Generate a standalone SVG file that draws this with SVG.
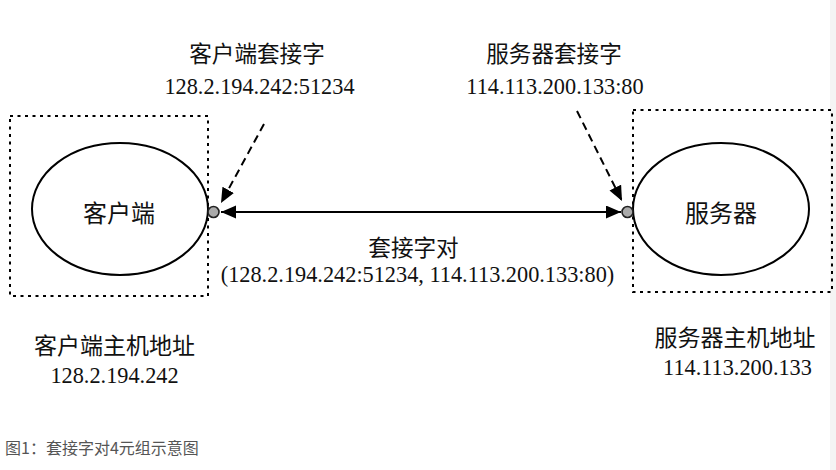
<svg xmlns="http://www.w3.org/2000/svg" width="836" height="470" viewBox="0 0 836 470">
<style>
.box{fill:none;stroke:#000;stroke-width:2;stroke-dasharray:3 4.5}
.ell{fill:#fff;stroke:#000;stroke-width:2}
.port{fill:#aaa;stroke:#222;stroke-width:1.6}
.lbl{font-family:"Liberation Serif","Noto Sans CJK SC",serif;font-size:22.6px;fill:#111;text-anchor:middle}
.num{font-family:"Liberation Serif","Noto Sans CJK SC",serif;font-size:22.3px;fill:#111;text-anchor:middle}
.node{font-family:"Noto Sans CJK SC","Noto Sans",sans-serif;font-size:24px;fill:#111;text-anchor:middle}
.cap{font-family:"Noto Sans CJK SC","Noto Sans",sans-serif;font-size:16px;fill:#555}
.line{fill:none;stroke:#000;stroke-width:2}
.dash{fill:none;stroke:#000;stroke-width:2;stroke-dasharray:8 5}
</style>
<defs>
<marker id="ah" markerUnits="userSpaceOnUse" markerWidth="16" markerHeight="14" refX="15" refY="6.5" orient="auto-start-reverse" viewBox="0 0 16 14">
<path d="M0,0 L15,6.5 L0,13 z" fill="#000"/>
</marker>
</defs>
<rect x="830" y="0" width="6" height="470" fill="#f4f4f4"/>
<g id="client-host">
<rect class="box" x="10" y="116" width="198" height="180"/>
</g>
<g id="server-host">
<rect class="box" x="633" y="110" width="199" height="182"/>
</g>
<g id="client">
<ellipse class="ell" cx="120" cy="209" rx="88" ry="66"/>
<text class="node" x="119" y="221.5">客户端</text>
</g>
<g id="server">
<ellipse class="ell" cx="721" cy="209" rx="88" ry="66"/>
<text class="node" x="721" y="221.5">服务器</text>
</g>
<g id="connectors">
<line class="line" x1="221" y1="212" x2="621" y2="212" marker-start="url(#ah)" marker-end="url(#ah)"/>
<line class="dash" x1="264" y1="124" x2="221" y2="203" marker-end="url(#ah)"/>
<line class="dash" x1="577" y1="111" x2="622" y2="201" marker-end="url(#ah)"/>
</g>
<g id="client-socket">
<circle class="port" cx="213.5" cy="212" r="5.5"/>
</g>
<g id="server-socket">
<circle class="port" cx="627.5" cy="212" r="5.5"/>
</g>
<g id="client-socket-label">
<text class="lbl" x="257" y="61.5">客户端套接字</text>
<text class="num" x="259.5" y="94">128.2.194.242:51234</text>
</g>
<g id="server-socket-label">
<text class="lbl" x="554" y="61.5">服务器套接字</text>
<text class="num" x="555" y="94">114.113.200.133:80</text>
</g>
<g id="pair-label">
<text class="lbl" x="413.5" y="255.5">套接字对</text>
<text class="num" x="417.5" y="282">(128.2.194.242:51234, 114.113.200.133:80)</text>
</g>
<g id="client-host-label">
<text class="lbl" x="114.5" y="353.5" style="font-size:23px">客户端主机地址</text>
<text class="num" x="114.5" y="383">128.2.194.242</text>
</g>
<g id="server-host-label">
<text class="lbl" x="735" y="345.5" style="font-size:23px">服务器主机地址</text>
<text class="num" x="737.5" y="375">114.113.200.133</text>
</g>
<text class="cap" x="5" y="454">图1：套接字对4元组示意图</text>
</svg>
